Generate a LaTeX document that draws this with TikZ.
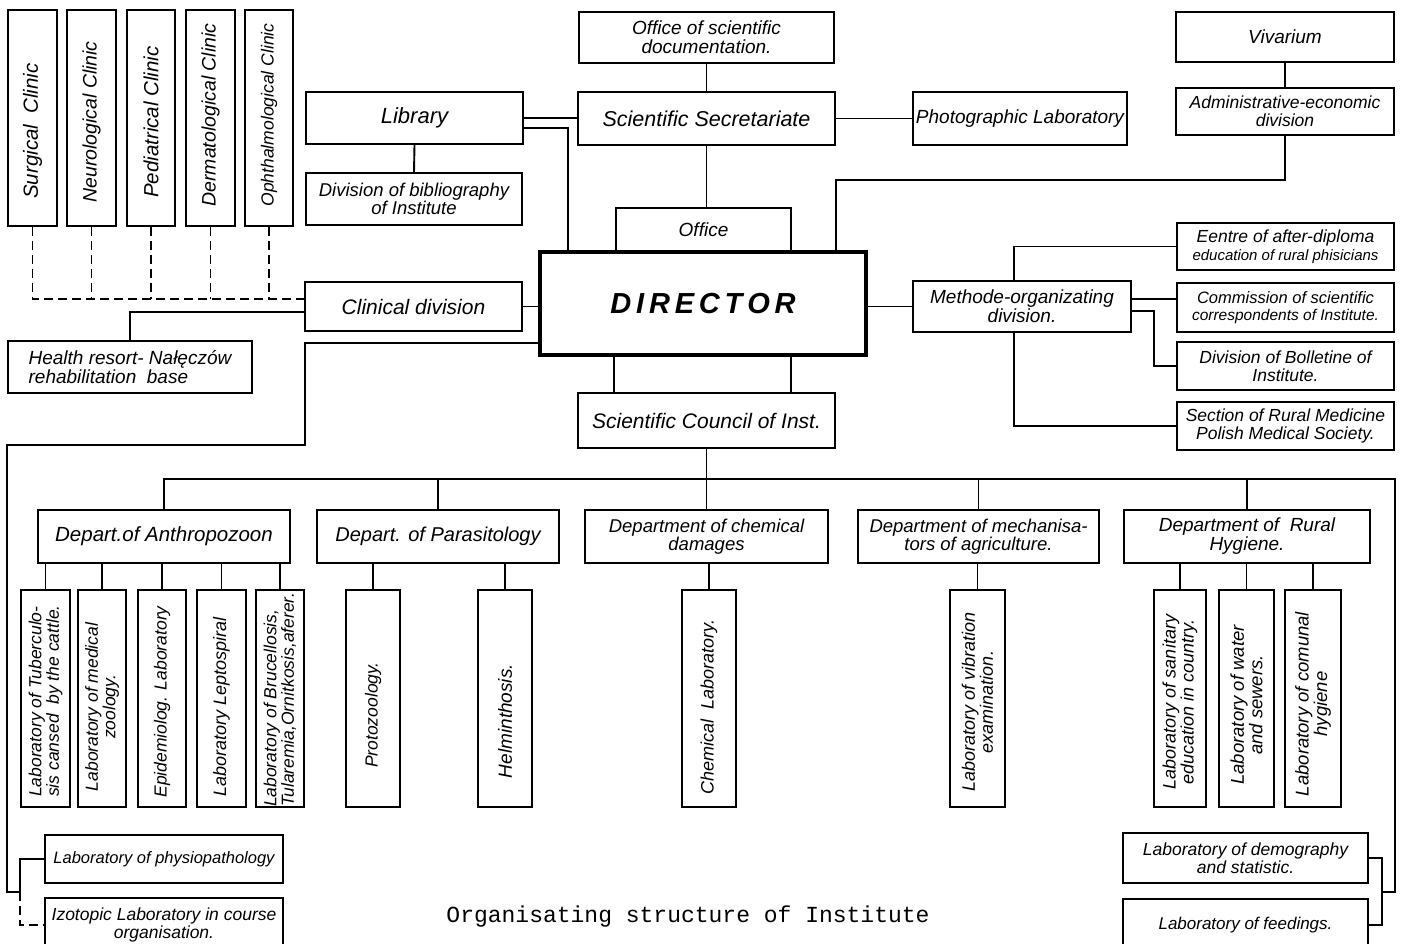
\documentclass[tikz,border=0pt]{standalone}
\usepackage{fontspec}
\setmainfont{Liberation Sans}
\newfontfamily\typew{Liberation Mono}
\newcommand\fz[2]{\fontsize{#1pt}{#2pt}\selectfont}
\begin{document}
\begin{tikzpicture}[x=1pt,y=-1pt,
 box/.style={draw, line width=1.6pt, inner sep=1pt, align=center},
 tx/.style={font={\fz{#1}{#1}\itshape}},
 ln/.style={line width=1.9pt},
 dsh/.style={line width=1.6pt, dash pattern=on 9pt off 5pt},
 rl/.style={rotate=90, align=center, inner sep=0pt},
]
\useasboundingbox[fill=white] (0,0) rectangle (1409,944);

% ---- clinics
\node[box, minimum width=49pt, minimum height=216pt] (surg) at (32.5,118) {};
\node[box, minimum width=49pt, minimum height=216pt] (neuro) at (91.5,118) {};
\node[box, minimum width=48pt, minimum height=216pt] (pedi) at (151,118) {};
\node[box, minimum width=49pt, minimum height=216pt] (derm) at (210.5,118) {};
\node[box, minimum width=48pt, minimum height=216pt] (ophth) at (269,118) {};
\node[rl, tx=20.5] (tsurg) at (32.5,131) {Surgical\ \ Clinic};
\node[rl, tx=19.5] (tneuro) at (91.5,122) {Neurological Clinic};
\node[rl, tx=20.5] (tpedi) at (151,122) {Pediatrical Clinic};
\node[rl, tx=19.5] (tderm) at (210.5,115) {Dermatological Clinic};
\node[rl, tx=17.5] (tophth) at (269,115) {Ophthalmological Clinic};

% ---- left column
\node[box, tx=22, minimum width=217pt, minimum height=52pt] (lib) at (414.5,118) {Library};
\node[box, tx=18.5, minimum width=216pt, minimum height=52pt] (bib) at (414,199) {Division of bibliography\\of Institute};
\node[box, tx=21, minimum width=217pt, minimum height=49pt] (clin) at (413.5,306.5) {Clinical division};
\node[box, tx=19, minimum width=244pt, minimum height=52pt, align=left] (health) at (130,367) {Health resort- Nałęczów\\rehabilitation\ \ base};

% ---- centre column
\node[box, tx=19, minimum width=255pt, minimum height=51pt] (odoc) at (706.5,37.5) {Office of scientific\\documentation.};
\node[box, tx=21.5, minimum width=257pt, minimum height=53pt] (sec) at (706.5,118.5) {Scientific Secretariate};
\node[box, tx=19, minimum width=214pt, minimum height=53pt] (photo) at (1020,118.5) {Photographic Laboratory};
\node[box, tx=19, minimum width=175pt, minimum height=44pt] (office) at (703.5,230) {Office};
\node[box, line width=4pt, minimum width=326pt, minimum height=103pt, font={\fz{29}{29}\bfseries\itshape}] (dir) at (703,303.5) {D\,I\,R\,E\,C\,T\,O\,R};
\node[box, tx=21, minimum width=257pt, minimum height=55pt] (council) at (706.5,420.5) {Scientific Council of Inst.};

% ---- right column
\node[box, tx=19, minimum width=218pt, minimum height=50pt] (viv) at (1285,37) {Vivarium};
\node[box, tx=17.5, minimum width=218pt, minimum height=47pt] (admin) at (1285,111.5) {Administrative-economic\\division};
\node[box, tx=19, minimum width=218pt, minimum height=51pt] (meth) at (1022,306.5) {Methode-organizating\\division.};
\node[box, tx=17.5, minimum width=217pt, minimum height=47pt] (centre) at (1285.5,246.5) {Eentre of after-diploma\\{\fz{15}{15}education of rural phisicians}};
\node[box, tx=16.5, minimum width=217pt, minimum height=49pt] (comm) at (1285.5,307.5) {Commission of scientific\\{\fz{15.5}{15.5}correspondents of Institute.}};
\node[box, tx=17.5, minimum width=217pt, minimum height=48pt] (bol) at (1285.5,366) {Division of Bolletine of\\Institute.};
\node[box, tx=17.5, minimum width=217pt, minimum height=48pt] (sect) at (1285.5,426) {Section of Rural Medicine\\Polish Medical Society.};

% ---- departments
\node[box, tx=20.5, minimum width=252pt, minimum height=53pt] (anth) at (164,536.5) {Depart.of Anthropozoon};
\node[box, tx=20, minimum width=242pt, minimum height=53pt] (para) at (438,536.5) {Depart. of Parasitology};
\node[box, tx=18.5, minimum width=243pt, minimum height=53pt] (chem) at (706.5,536.5) {Department of chemical\\damages};
\node[box, tx=18.5, minimum width=241pt, minimum height=53pt] (mech) at (978.5,536.5) {Department of mechanisa-\\tors of agriculture.};
\node[box, tx=19, minimum width=246pt, minimum height=53pt] (rural) at (1247,536.5) {Department of\ \ Rural\\Hygiene.};

% ---- laboratories
\node[box, minimum width=49pt, minimum height=217pt] (tub) at (45.5,698.5) {};
\node[box, minimum width=48pt, minimum height=217pt] (zoo) at (102,698.5) {};
\node[box, minimum width=48pt, minimum height=217pt] (epi) at (162,698.5) {};
\node[box, minimum width=49pt, minimum height=217pt] (lep) at (221.5,698.5) {};
\node[box, minimum width=48pt, minimum height=217pt] (bru) at (280,698.5) {};
\node[box, minimum width=54pt, minimum height=217pt] (pro) at (373,698.5) {};
\node[box, minimum width=54pt, minimum height=217pt] (hel) at (505,698.5) {};
\node[box, minimum width=54pt, minimum height=217pt] (chl) at (709,698.5) {};
\node[box, minimum width=55pt, minimum height=217pt] (vib) at (977.5,698.5) {};
\node[box, minimum width=52pt, minimum height=217pt] (san) at (1180,698.5) {};
\node[box, minimum width=55pt, minimum height=217pt] (wat) at (1246.5,698.5) {};
\node[box, minimum width=56pt, minimum height=217pt] (com) at (1313,698.5) {};

\node[rl, tx=17.5, align=left] (ttub) at (45.5,701) {Laboratory of Tuberculo-\\sis cansed\ \ by the cattle.};
\node[rl, tx=17.5] (tzoo) at (102,707) {Laboratory of medical\\zoology.};
\node[rl, tx=17.5] (tepi) at (162,702) {Epidemiolog. Laboratory};
\node[rl, tx=18] (tlep) at (221.5,707) {Laboratory Leptospiral};
\node[rl, tx=17.5, align=left] (tbru) at (280,700) {Laboratory of Brucellosis,\\Tularemia,Ornitkosis,aferer.};
\node[rl, tx=17.5] (tpro) at (373,715) {Protozoology.};
\node[rl, tx=19] (thel) at (505,721) {Helminthosis.};
\node[rl, tx=18] (tchl) at (709,707) {Chemical\ \ Laboratory.};
\node[rl, tx=18] (tvib) at (977.5,702) {Laboratory of vibration\\examination.};
\node[rl, tx=18] (tsan) at (1180,702) {Laboratory of sanitary\\education in country.};
\node[rl, tx=18.5] (twat) at (1246.5,705) {Laboratory of water\\and sewers.};
\node[rl, tx=18.5] (tcom) at (1313,704) {Laboratory of comunal\\hygiene};

% ---- bottom boxes
\node[box, tx=16.5, minimum width=238pt, minimum height=48pt] (physio) at (164,859) {Laboratory of physiopathology};
\node[box, tx=17.5, minimum width=238pt, minimum height=54pt] (izo) at (164,925) {Izotopic Laboratory in course\\organisation.};
\node[box, tx=17.5, minimum width=245pt, minimum height=50pt] (demog) at (1245.5,858) {Laboratory of demography\\and statistic.};
\node[box, tx=17, minimum width=245pt, minimum height=52pt] (feed) at (1245.5,925) {Laboratory of feedings.};

\node[font={\typew\fz{23}{23}}] (title) at (688,917) {Organisating structure of Institute};

% ---- connectors
\coordinate (dj) at (33,299);
\draw[dsh] (surg.south) |- (clin.west |- dj);
\foreach \c in {neuro,pedi,derm,ophth} \draw[dsh] (\c.south) -- (\c.south |- dj);

\draw[ln] ([yshift=-5.5pt]clin.west) -| (health.north);
\draw[ln] (clin.east) -- (clin.east -| dir.west);

\coordinate (l1) at (305,343);
\coordinate (l2) at (305,445);
\coordinate (l3) at (7,445);
\coordinate (l4) at (7,892);
\coordinate (l5) at (20,892);
\draw[ln] (dir.west |- l1) -- (l1) -- (l2) -- (l3) -- (l4) -- (l5) |- (physio.west);
\draw[dsh] (l5) |- (izo.west);

\draw[ln] (lib.east) -- (lib.east -| sec.west);
\coordinate (lj) at (568,128);
\draw[ln] (lib.east |- lj) -- (lj) -- (lj |- dir.north);
\draw[ln] (lib.south) -- (bib.north);

\draw[ln] (odoc.south) -- (sec.north);
\draw[ln] (sec.east) -- (photo.west);
\draw[ln] (sec.south) -- (sec.south |- office.north);
\draw[ln] (viv.south) -- (admin.north);
\coordinate (aj) at (836,180);
\draw[ln] (admin.south) |- (aj) -- (aj |- dir.north);

\draw[ln] (meth.west) -- (meth.west -| dir.east);
\draw[ln] ([xshift=-8pt]meth.north) |- (centre.west);
\draw[ln] ([yshift=7.5pt]meth.east) -- ([yshift=7.5pt]meth.east -| comm.west);
\coordinate (bj) at (1154,366);
\draw[ln] ([yshift=-4.5pt]meth.east) -| (bj) -- (bol.west);
\draw[ln] ([xshift=-8pt]meth.south) |- (sect.west);

\draw[ln] ([xshift=76pt]dir.south west) -- ([xshift=76pt]dir.south west |- council.north);
\draw[ln] ([xshift=-77pt]dir.south east) -- ([xshift=-77pt]dir.south east |- council.north);

\coordinate (br) at (1395,479);
\coordinate (bb) at (1395,892);
\coordinate (fj) at (1382,892);
\draw[ln] (anth.north) |- (br) -- (bb) -- (fj);
\draw[ln] (demog.east) -| (fj);
\draw[ln] (feed.east) -| (fj);
\foreach \d in {para,chem,mech,rural} \draw[ln] (\d.north) -- (\d.north |- br);
\draw[ln] (council.south) -- (council.south |- br);

\foreach \l/\d in {tub/anth,zoo/anth,epi/anth,lep/anth,bru/anth,pro/para,hel/para,chl/chem,vib/mech,san/rural,wat/rural,com/rural}
  \draw[ln] (\l.north) -- (\l.north |- \d.south);
\end{tikzpicture}
\end{document}
